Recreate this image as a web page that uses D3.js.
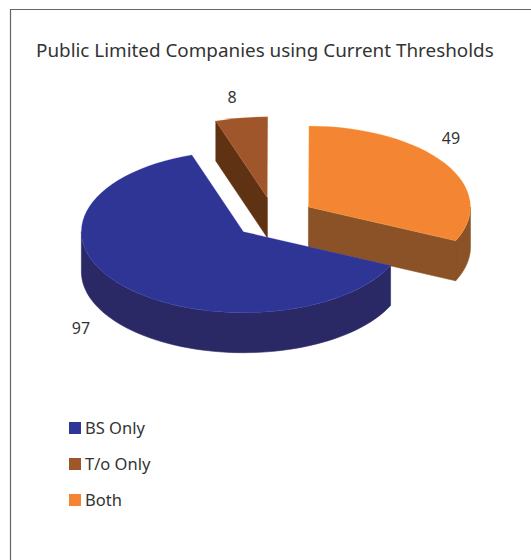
<!DOCTYPE html>
<html>
<head>
<meta charset="utf-8">
<script src="https://d3js.org/d3.v7.min.js"></script>
<style>
  html, body { margin: 0; padding: 0; background: #fff; }
  svg { display: block; }
  text { font-family: "Noto Sans", "Open Sans", sans-serif; fill: #333; }
</style>
</head>
<body>
<svg id="chart" width="531" height="560"></svg>
<script>
const titleText = "Public Limited Companies using Current Thresholds";
const categories = ["BS Only", "T/o Only", "Both"];
const values = [97, 8, 49];
const topColors = ["#2f3594", "#a0562b", "#f48533"];
const wallColors = ["#2a2966", "#5f3214", "#8b5228"];
const labelPositions = [[81, 334], [232, 103], [451, 144]];
const drawOrder = [1, 2, 0];

const centre = [273.9, 218];
const radius = 162;
const tilt = 0.5;
const depth = 40;
const explode = 41;
const firstAngle = 114.7 * Math.PI / 180;

const svg = d3.select("#chart");

// Frame open towards the right and bottom edges
svg.append("path")
  .attr("d", "M10.5,560V9.5H531")
  .attr("fill", "none")
  .attr("stroke", "#666")
  .attr("stroke-width", 1.2);

svg.append("text")
  .attr("x", 36)
  .attr("y", 56.5)
  .attr("font-size", 18.85)
  .text(titleText);

const pie = d3.pie().sort(null).startAngle(firstAngle).endAngle(firstAngle + 2 * Math.PI);
const slices = pie(values);
const arc = d3.arc().innerRadius(0).outerRadius(radius);

// Angles run clockwise from twelve o'clock, as in d3.arc
const px = (a, r) => r * Math.sin(a);
const py = (a, r) => -r * Math.cos(a) * tilt;
const line = d3.line();

function rimWall(a0, a1) {
  const steps = d3.range(0, 61).map(i => a0 + (a1 - a0) * i / 60);
  const upper = steps.map(a => [px(a, radius), py(a, radius)]);
  const lower = steps.slice().reverse().map(a => [px(a, radius), py(a, radius) + depth]);
  return line(upper.concat(lower)) + "Z";
}

function radialWall(a) {
  const x = px(a, radius), y = py(a, radius);
  return line([[0, 0], [x, y], [x, y + depth], [0, depth]]) + "Z";
}

// Only wall sections turned towards the viewer are drawn
function visibleRims(a0, a1) {
  const spans = [];
  for (let k = 0; k < 2; k++) {
    const lo = Math.PI / 2 + 2 * Math.PI * k;
    const hi = 3 * Math.PI / 2 + 2 * Math.PI * k;
    const s = Math.max(a0, lo), e = Math.min(a1, hi);
    if (e > s) spans.push([s, e]);
  }
  return spans;
}

drawOrder.forEach(i => {
  const d = slices[i];
  const mid = (d.startAngle + d.endAngle) / 2;
  const g = svg.append("g")
    .attr("transform", `translate(${centre[0] + px(mid, explode)},${centre[1] + py(mid, explode)})`);

  const walls = visibleRims(d.startAngle, d.endAngle).map(s => rimWall(s[0], s[1]));
  if (-Math.cos(d.startAngle - Math.PI / 2) > 0.01) walls.push(radialWall(d.startAngle));
  if (-Math.cos(d.endAngle + Math.PI / 2) > 0.01) walls.push(radialWall(d.endAngle));

  // One compound path, so neighbouring wall sections leave no seam
  g.append("path")
    .attr("d", walls.join(""))
    .attr("fill", wallColors[i])
    .attr("stroke", wallColors[i])
    .attr("stroke-width", 0.6)
    .attr("stroke-linejoin", "round");

  g.append("path")
    .attr("d", arc(d))
    .attr("transform", `scale(1,${tilt})`)
    .attr("fill", topColors[i])
    .attr("stroke", d3.color(topColors[i]).brighter(1.2))
    .attr("stroke-width", 0.5)
    .attr("stroke-opacity", 0.6);
});

svg.selectAll("text.value").data(values).join("text")
  .attr("class", "value")
  .attr("x", (v, i) => labelPositions[i][0])
  .attr("y", (v, i) => labelPositions[i][1])
  .attr("text-anchor", "middle")
  .attr("font-size", 16)
  .text(v => v);

const legendY = d3.scalePoint().domain(categories).range([428, 500]);
const legend = svg.selectAll("g.legend").data(categories).join("g")
  .attr("class", "legend")
  .attr("transform", c => `translate(69,${legendY(c)})`);
legend.append("rect")
  .attr("y", -6)
  .attr("width", 12)
  .attr("height", 12)
  .attr("fill", (c, i) => topColors[i]);
legend.append("text")
  .attr("x", 16)
  .attr("y", 5.5)
  .attr("font-size", 16.5)
  .text(c => c);
</script>
</body>
</html>
